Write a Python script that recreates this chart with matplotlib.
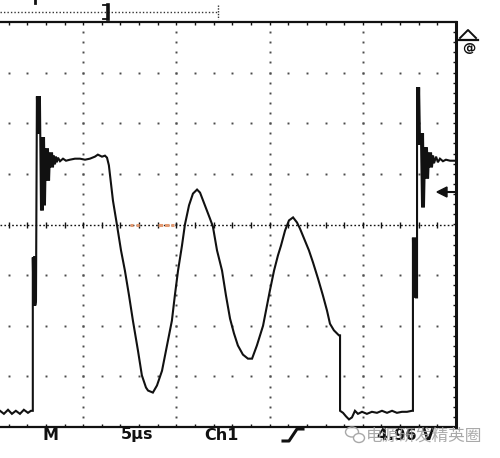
import matplotlib.pyplot as plt
import matplotlib.patches as mpatches
import numpy as np

# trace: time in us (5 us/div), level in divisions from centre
t_us = [0.54, 0.75, 0.97, 1.18, 1.39, 1.61, 1.82, 2.04, 2.20, 2.30,
        2.30, 2.34, 2.38, 2.43, 2.47,
        2.52, 2.58, 2.60, 2.66, 2.68, 2.74, 2.79, 2.84, 2.90, 2.95,
        3.00, 3.06, 3.11, 3.17, 3.22, 3.27, 3.33, 3.38, 3.43, 3.49,
        3.54, 3.59, 3.65, 3.76, 3.92, 4.08, 4.29, 4.56, 4.83, 5.10,
        5.36, 5.63, 5.79, 6.01, 6.17, 6.28, 6.38, 6.60, 6.81, 7.03,
        7.24, 7.46, 7.67, 7.94, 8.15, 8.37, 8.48, 8.74, 8.96, 9.23,
        9.50, 9.76, 9.92, 10.09, 10.30, 10.46, 10.68, 10.89, 11.11, 11.27,
        11.53, 11.80, 11.96, 12.18, 12.45, 12.66, 12.88, 13.09, 13.30, 13.57,
        13.84, 14.06, 14.32, 14.65, 14.86, 15.02, 15.24, 15.45, 15.61, 15.83,
        16.04, 16.26, 16.47, 16.63, 16.90, 17.11, 17.33, 17.60, 17.86, 18.08,
        18.24, 18.45, 18.72, 18.78, 18.78, 18.94, 19.10, 19.26, 19.42, 19.58,
        19.74, 19.96, 20.22, 20.49, 20.76, 21.03, 21.30, 21.57, 21.83, 22.10,
        22.37, 22.64, 22.69, 22.69, 22.75, 22.80, 22.85, 22.91, 22.91, 22.96,
        23.02, 23.07, 23.12, 23.18, 23.23, 23.28, 23.34, 23.39, 23.44, 23.50,
        23.55, 23.61, 23.66, 23.71, 23.77, 23.82, 23.93, 24.03, 24.14, 24.30,
        24.46, 24.68, 25.00]
level_div = [-3.68, -3.74, -3.66, -3.74, -3.68, -3.74, -3.66, -3.72, -3.68, -3.68,
             -0.65, -1.60, -0.63, -1.60, -1.50,
             2.53, 1.80, 2.53, 1.80, 2.53, 0.28, 1.72, 0.28, 1.72, 0.38,
             1.50, 0.87, 1.50, 0.87, 1.42, 1.13, 1.42, 1.13, 1.36, 1.19,
             1.34, 1.23, 1.32, 1.25, 1.30, 1.26, 1.28, 1.30, 1.30, 1.28,
             1.30, 1.34, 1.38, 1.34, 1.36, 1.32, 1.17, 0.47, 0.00, -0.51,
             -0.91, -1.40, -1.90, -2.49, -2.98, -3.22, -3.28, -3.32, -3.18, -2.89,
             -2.39, -1.90, -1.40, -0.91, -0.42, 0.00, 0.38, 0.61, 0.69, 0.63,
             0.38, 0.12, -0.04, -0.51, -0.91, -1.40, -1.86, -2.15, -2.39, -2.57,
             -2.65, -2.65, -2.39, -2.00, -1.60, -1.30, -0.91, -0.61, -0.42, -0.12,
             0.08, 0.14, 0.04, -0.08, -0.32, -0.51, -0.75, -1.07, -1.40, -1.70,
             -1.96, -2.09, -2.19, -2.19, -3.68, -3.72, -3.79, -3.85, -3.81, -3.68,
             -3.74, -3.70, -3.74, -3.70, -3.72, -3.68, -3.72, -3.68, -3.72, -3.70,
             -3.70, -3.68, -3.68, -0.26, -1.44, -0.26, -1.44, -1.44, 2.71, 1.58,
             2.71, 1.58, 1.80, 0.34, 1.80, 0.34, 1.52, 0.91, 1.52, 0.91,
             1.42, 1.13, 1.42, 1.13, 1.36, 1.21, 1.34, 1.23, 1.30, 1.25,
             1.28, 1.26, 1.26]

grid_t = [5, 10, 15, 20]
grid_v = [-3, -2, -1, 1, 2, 3]
bottom_labels = ["M", "5\u00b5s", "Ch1"]
trigger_label = "4.96 V"
watermark = "电源研发精英圈"

INK = "#111111"
DOT = "#4a4a4a"

fig = plt.figure(figsize=(5.0, 4.58), dpi=100)
fig.patch.set_facecolor("white")

# scope screen: frame from pixel x 0..456, y 22..427
ax = fig.add_axes([0.0, 1 - 427 / 458, 456 / 500, 405 / 458])
ax.set_xlim(0.54, 25.0)
ax.set_ylim(-4, 4)
ax.set_facecolor("white")
for side in ["top", "bottom"]:
    ax.spines[side].set_linewidth(1.6)
    ax.spines[side].set_color(INK)
ax.spines["right"].set_linewidth(2.2)
ax.spines["right"].set_color(INK)
ax.spines["left"].set_visible(False)

ax.set_xticks(np.arange(1, 25.01, 1.0))
ax.set_yticks(np.arange(-3.8, 3.81, 0.2))
ax.tick_params(axis="x", which="both", direction="in", top=True, bottom=True,
               length=2.5, width=1.0, color=INK, labelbottom=False)
ax.tick_params(axis="y", which="both", direction="in", right=True, left=False,
               length=2.5, width=1.0, color=INK, labelleft=False)

# dotted graticule
minor_t = np.arange(1, 25, 1.0)
minor_v = np.arange(-3.8, 3.81, 0.2)
for v in grid_v:
    ax.plot(minor_t, np.full(len(minor_t), v), ls="none", marker="s",
            ms=1.4, color=DOT, mew=0)
for t in grid_t:
    ax.plot(np.full(len(minor_v), t), minor_v, ls="none", marker="s",
            ms=1.4, color=DOT, mew=0)
ax.axhline(0, color=INK, lw=1.0, ls=(0, (1.2, 1.6)))
ax.plot(minor_t, np.zeros(len(minor_t)), ls="none", marker="|", ms=4,
        mew=1.0, color=INK)

# orange reference marks on the centre line
ax.plot([7.5, 8.1], [0, 0], color="#e39a72", lw=2.2, ls=(0, (1, 1)))
ax.plot([9.0, 9.9], [0, 0], color="#e39a72", lw=2.2, ls=(0, (1.5, 0.6)))

ax.plot(t_us, level_div, color=INK, lw=1.5, solid_joinstyle="miter")

# overlay for the readout and symbols, pixel coordinates
ov = fig.add_axes([0, 0, 1, 1], facecolor="none")
ov.set_xlim(0, 500)
ov.set_ylim(458, 0)
ov.axis("off")

# record bar at the top
ov.plot([0, 218], [12, 12], color="#333333", lw=1.0, ls=(0, (1, 1.5)))
ov.plot([218, 218], [5, 19], color="#333333", lw=1.0, ls=(0, (1, 1)))
ov.plot([103, 108, 108, 103], [5, 5, 19, 19], color=INK, lw=1.3)
ov.plot([108, 108], [5, 19], color=INK, lw=2.6)
ov.plot([35, 35], [0, 3], color=INK, lw=2.0)

# right side symbols
ov.plot([460, 468, 476], [38, 30, 38], color=INK, lw=1.4)
ov.plot([459, 478], [40, 40], color=INK, lw=1.6)
ov.text(469, 49, "@", ha="center", va="center", fontsize=9.5,
        fontweight="bold", color=INK)
ov.add_patch(mpatches.Polygon([[437, 192], [447, 187], [447, 197]],
                              closed=True, color=INK))
ov.plot([445, 456], [192, 192], color=INK, lw=1.5)

# bottom readout
for label, x in zip(bottom_labels, [51, 137, 221]):
    ov.text(x, 435, label, ha="center", va="center", fontsize=11.5,
            fontweight="bold", color=INK, family="DejaVu Sans")
ov.plot([283, 289, 297, 303], [441, 441, 429, 429], color=INK, lw=2.2)
ov.text(406, 435, trigger_label, ha="center", va="center", fontsize=11.5,
        fontweight="bold", color=INK, family="DejaVu Sans")

# watermark
ov.add_patch(mpatches.Ellipse((352, 432), 13, 10, fill=False,
                              edgecolor="#a8a8a8", lw=1.0))
ov.add_patch(mpatches.Ellipse((359, 438), 11, 9, facecolor="white",
                              edgecolor="#a8a8a8", lw=1.0))
ov.text(366, 436, watermark, ha="left", va="center", fontsize=12,
        color="#a0a0a0", alpha=0.9, family=["Noto Sans CJK SC", "DejaVu Sans"])

fig.savefig("out.png", dpi=100)
